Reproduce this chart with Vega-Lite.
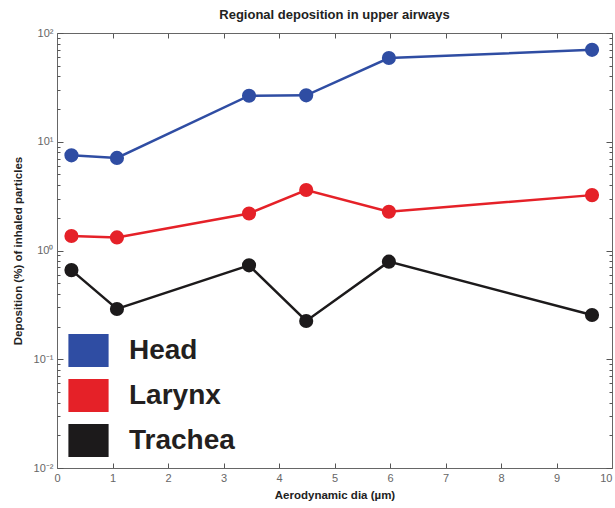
{
  "$schema": "https://vega.github.io/schema/vega-lite/v6.json",
  "autosize": "none",
  "width": 555,
  "height": 435,
  "padding": {"left": 57, "top": 33, "right": 3, "bottom": 40},
  "background": "white",
  "title": {
    "text": "Regional deposition in upper airways",
    "font": "Liberation Sans",
    "fontSize": 13,
    "fontWeight": "bold",
    "color": "#222222",
    "offset": 5
  },
  "config": {
    "view": {"stroke": null},
    "axis": {
      "labelFont": "Liberation Sans",
      "labelFontSize": 11,
      "labelColor": "#666666",
      "titleFont": "Liberation Sans",
      "titleFontSize": 11.5,
      "titleFontWeight": "bold",
      "titleColor": "#222222",
      "domainColor": "#666666",
      "tickColor": "#555555",
      "tickWidth": 1,
      "grid": false
    }
  },
  "data": {
    "values": [
      {"dia": 0.26, "deposition": 7.5, "region": "Head"},
      {"dia": 1.08, "deposition": 7.1, "region": "Head"},
      {"dia": 3.46, "deposition": 26.5, "region": "Head"},
      {"dia": 4.49, "deposition": 26.7, "region": "Head"},
      {"dia": 5.98, "deposition": 58.9, "region": "Head"},
      {"dia": 9.64, "deposition": 70.0, "region": "Head"},
      {"dia": 0.26, "deposition": 1.36, "region": "Larynx"},
      {"dia": 1.08, "deposition": 1.32, "region": "Larynx"},
      {"dia": 3.46, "deposition": 2.19, "region": "Larynx"},
      {"dia": 4.49, "deposition": 3.6, "region": "Larynx"},
      {"dia": 5.98, "deposition": 2.27, "region": "Larynx"},
      {"dia": 9.64, "deposition": 3.23, "region": "Larynx"},
      {"dia": 0.26, "deposition": 0.66, "region": "Trachea"},
      {"dia": 1.08, "deposition": 0.29, "region": "Trachea"},
      {"dia": 3.46, "deposition": 0.73, "region": "Trachea"},
      {"dia": 4.49, "deposition": 0.225, "region": "Trachea"},
      {"dia": 5.98, "deposition": 0.79, "region": "Trachea"},
      {"dia": 9.64, "deposition": 0.255, "region": "Trachea"}
    ]
  },
  "layer": [
    {
      "mark": {"type": "line", "strokeWidth": 2.5},
      "encoding": {
        "x": {
          "field": "dia", "type": "quantitative",
          "scale": {"domain": [0, 10], "nice": false},
          "axis": {
            "orient": "bottom",
            "title": "Aerodynamic dia (µm)",
            "values": [0, 1, 2, 3, 4, 5, 6, 7, 8, 9, 10],
            "format": "d",
            "tickSize": -5,
            "labelPadding": 9,
            "titlePadding": 6,
            "labelFlush": false,
            "labelAlign": {"condition": {"test": "datum.value == 10", "value": "right"}, "value": "center"},
            "labelOverlap": false
          }
        },
        "y": {
          "field": "deposition", "type": "quantitative",
          "scale": {"type": "log", "domain": [0.01, 100], "nice": false},
          "axis": {
            "orient": "left",
            "title": "Deposition (%) of inhaled particles",
            "values": [0.01, 0.1, 1, 10, 100],
            "labelExpr": "['10⁻²','10⁻¹','10⁰','10¹','10²'][round(log(datum.value)/LN10)+2]",
            "tickSize": -6,
            "labelPadding": 10,
            "titlePadding": 10,
            "labelFlush": false
          }
        },
        "color": {
          "field": "region", "type": "nominal",
          "scale": {
            "domain": ["Head", "Larynx", "Trachea"],
            "range": ["#2f4da3", "#e52128", "#1c1a1b"]
          },
          "legend": {
            "title": null,
            "orient": "none",
            "legendX": 11,
            "legendY": 297,
            "symbolType": "M-1,-0.82H1V0.82H-1Z",
            "symbolSize": 1521,
            "symbolStrokeColor": "#222222",
            "symbolStrokeWidth": 1,
            "symbolOpacity": 1,
            "labelFont": "Liberation Sans",
            "labelFontSize": 28,
            "labelFontWeight": "bold",
            "labelColor": "#231f20",
            "labelOffset": 20,
            "rowPadding": 6,
            "encode": {
              "symbols": {
                "update": {
                  "fill": {"scale": "color", "field": "value"},
                  "stroke": {"value": "#222222"},
                  "strokeWidth": {"value": 1.2},
                  "strokeJoin": {"value": "miter"},
                  "opacity": {"value": 1}
                }
              }
            }
          }
        }
      }
    },
    {
      "mark": {"type": "point", "filled": true, "opacity": 1, "size": 200},
      "encoding": {
        "x": {
          "field": "dia", "type": "quantitative",
          "axis": {
            "orient": "top", "title": null, "labels": false,
            "values": [0, 1, 2, 3, 4, 5, 6, 7, 8, 9, 10],
            "tickSize": -5
          }
        },
        "y": {
          "field": "deposition", "type": "quantitative",
          "axis": {
            "orient": "right", "title": null, "labels": false,
            "values": [0.01, 0.1, 1, 10, 100],
            "tickSize": -6
          }
        },
        "color": {"field": "region", "type": "nominal"}
      }
    },
    {
      "mark": {"type": "point", "opacity": 0},
      "encoding": {
        "x": {"field": "dia", "type": "quantitative", "axis": null},
        "y": {
          "field": "deposition", "type": "quantitative",
          "axis": {
            "orient": "left", "title": null, "labels": false, "domain": false,
            "values": [0.02, 0.03, 0.04, 0.05, 0.06, 0.07, 0.08, 0.09, 0.2, 0.3, 0.4, 0.5, 0.6, 0.7, 0.8, 0.9, 2, 3, 4, 5, 6, 7, 8, 9, 20, 30, 40, 50, 60, 70, 80, 90],
            "tickSize": -3
          }
        }
      }
    },
    {
      "mark": {"type": "point", "opacity": 0},
      "encoding": {
        "x": {"field": "dia", "type": "quantitative", "axis": null},
        "y": {
          "field": "deposition", "type": "quantitative",
          "axis": {
            "orient": "right", "title": null, "labels": false, "domain": false,
            "values": [0.02, 0.03, 0.04, 0.05, 0.06, 0.07, 0.08, 0.09, 0.2, 0.3, 0.4, 0.5, 0.6, 0.7, 0.8, 0.9, 2, 3, 4, 5, 6, 7, 8, 9, 20, 30, 40, 50, 60, 70, 80, 90],
            "tickSize": -3
          }
        }
      }
    }
  ],
  "resolve": {"axis": {"x": "independent", "y": "independent"}}
}
